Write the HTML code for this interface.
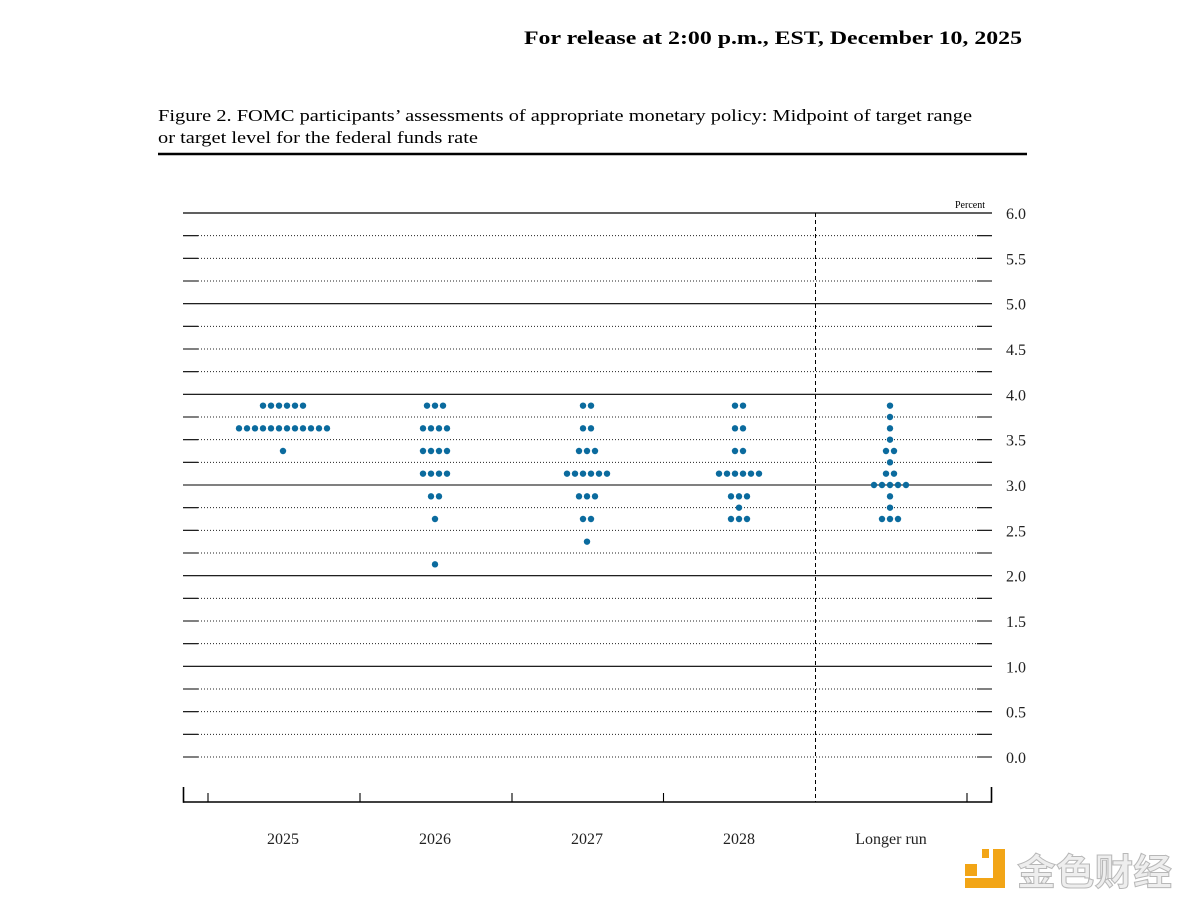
<!DOCTYPE html>
<html><head><meta charset="utf-8"><style>
html,body{margin:0;padding:0;background:#fff;}
svg{display:block;}
</style></head><body>
<svg width="1185" height="903" viewBox="0 0 1185 903" xmlns="http://www.w3.org/2000/svg">
<rect width="1185" height="903" fill="#fff"/>
<text x="524" y="44" font-family="Liberation Serif, serif" font-weight="bold" font-size="19" textLength="498" lengthAdjust="spacingAndGlyphs" fill="#000">For release at 2:00 p.m., EST, December 10, 2025</text>
<text x="158" y="121" font-family="Liberation Serif, serif" font-size="17" textLength="814" lengthAdjust="spacingAndGlyphs" fill="#000">Figure 2. FOMC participants’ assessments of appropriate monetary policy: Midpoint of target range</text>
<text x="158" y="143" font-family="Liberation Serif, serif" font-size="17" textLength="320" lengthAdjust="spacingAndGlyphs" fill="#000">or target level for the federal funds rate</text>
<line x1="158" y1="154" x2="1027" y2="154" stroke="#000" stroke-width="2.4"/>

<g stroke="#000">
<!-- integer lines -->
<line x1="183" y1="213" x2="992" y2="213" stroke-width="1.3"/>
<line x1="183" y1="303.67" x2="992" y2="303.67" stroke-width="1.1"/>
<line x1="183" y1="394.33" x2="992" y2="394.33" stroke-width="1.1"/>
<line x1="183" y1="485" x2="992" y2="485" stroke-width="1.1"/>
<line x1="183" y1="575.67" x2="992" y2="575.67" stroke-width="1.1"/>
<line x1="183" y1="666.33" x2="992" y2="666.33" stroke-width="1.1"/>
</g>
<g stroke="#222" stroke-width="1" stroke-dasharray="1 2">
<line x1="198" y1="235.67" x2="977" y2="235.67"/>
<line x1="198" y1="258.33" x2="977" y2="258.33"/>
<line x1="198" y1="281" x2="977" y2="281"/>
<line x1="198" y1="326.33" x2="977" y2="326.33"/>
<line x1="198" y1="349" x2="977" y2="349"/>
<line x1="198" y1="371.67" x2="977" y2="371.67"/>
<line x1="198" y1="417" x2="977" y2="417"/>
<line x1="198" y1="439.67" x2="977" y2="439.67"/>
<line x1="198" y1="462.33" x2="977" y2="462.33"/>
<line x1="198" y1="507.67" x2="977" y2="507.67"/>
<line x1="198" y1="530.33" x2="977" y2="530.33"/>
<line x1="198" y1="553" x2="977" y2="553"/>
<line x1="198" y1="598.33" x2="977" y2="598.33"/>
<line x1="198" y1="621" x2="977" y2="621"/>
<line x1="198" y1="643.67" x2="977" y2="643.67"/>
<line x1="198" y1="689" x2="977" y2="689"/>
<line x1="198" y1="711.67" x2="977" y2="711.67"/>
<line x1="198" y1="734.33" x2="977" y2="734.33"/>
<line x1="198" y1="757" x2="977" y2="757"/>
</g>
<g stroke="#000" stroke-width="1.1">
<path d="M183 235.67H198M977 235.67H992M183 258.33H198M977 258.33H992M183 281H198M977 281H992M183 326.33H198M977 326.33H992M183 349H198M977 349H992M183 371.67H198M977 371.67H992M183 417H198M977 417H992M183 439.67H198M977 439.67H992M183 462.33H198M977 462.33H992M183 507.67H198M977 507.67H992M183 530.33H198M977 530.33H992M183 553H198M977 553H992M183 598.33H198M977 598.33H992M183 621H198M977 621H992M183 643.67H198M977 643.67H992M183 689H198M977 689H992M183 711.67H198M977 711.67H992M183 734.33H198M977 734.33H992M183 757H198M977 757H992"/>
</g>
<line x1="815.5" y1="213" x2="815.5" y2="802" stroke="#000" stroke-width="1" stroke-dasharray="4 3"/>

<text x="955" y="208" font-family="Liberation Serif, serif" font-size="10" fill="#000">Percent</text>
<g font-family="Liberation Serif, serif" font-size="16" fill="#222">
<text x="1006" y="219">6.0</text>
<text x="1006" y="264.3">5.5</text>
<text x="1006" y="309.7">5.0</text>
<text x="1006" y="355">4.5</text>
<text x="1006" y="400.3">4.0</text>
<text x="1006" y="445.7">3.5</text>
<text x="1006" y="491">3.0</text>
<text x="1006" y="536.3">2.5</text>
<text x="1006" y="581.7">2.0</text>
<text x="1006" y="627">1.5</text>
<text x="1006" y="672.3">1.0</text>
<text x="1006" y="717.7">0.5</text>
<text x="1006" y="763">0.0</text>
</g>

<g stroke="#000">
<line x1="183" y1="802" x2="992" y2="802" stroke-width="1.5"/>
<path d="M183.5 787V802.7M991.5 787V802.7" stroke-width="1.6"/>
<path d="M208 793V802M360 793V802M512 793V802M663.5 793V802M967 793V802" stroke-width="1.1"/>
</g>
<g font-family="Liberation Serif, serif" font-size="16" fill="#222" text-anchor="middle">
<text x="283" y="844">2025</text>
<text x="435" y="844">2026</text>
<text x="587" y="844">2027</text>
<text x="739" y="844">2028</text>
<text x="891" y="844">Longer run</text>
</g>

<g fill="#0b6b9e">
<!-- 2025 -->
<circle cx="263" cy="405.67" r="3.2"/><circle cx="271" cy="405.67" r="3.2"/><circle cx="279" cy="405.67" r="3.2"/><circle cx="287" cy="405.67" r="3.2"/><circle cx="295" cy="405.67" r="3.2"/><circle cx="303" cy="405.67" r="3.2"/>
<circle cx="239" cy="428.33" r="3.2"/><circle cx="247" cy="428.33" r="3.2"/><circle cx="255" cy="428.33" r="3.2"/><circle cx="263" cy="428.33" r="3.2"/><circle cx="271" cy="428.33" r="3.2"/><circle cx="279" cy="428.33" r="3.2"/><circle cx="287" cy="428.33" r="3.2"/><circle cx="295" cy="428.33" r="3.2"/><circle cx="303" cy="428.33" r="3.2"/><circle cx="311" cy="428.33" r="3.2"/><circle cx="319" cy="428.33" r="3.2"/><circle cx="327" cy="428.33" r="3.2"/>
<circle cx="283" cy="451" r="3.2"/>
<!-- 2026 -->
<circle cx="427" cy="405.67" r="3.2"/><circle cx="435" cy="405.67" r="3.2"/><circle cx="443" cy="405.67" r="3.2"/>
<circle cx="423" cy="428.33" r="3.2"/><circle cx="431" cy="428.33" r="3.2"/><circle cx="439" cy="428.33" r="3.2"/><circle cx="447" cy="428.33" r="3.2"/>
<circle cx="423" cy="451" r="3.2"/><circle cx="431" cy="451" r="3.2"/><circle cx="439" cy="451" r="3.2"/><circle cx="447" cy="451" r="3.2"/>
<circle cx="423" cy="473.67" r="3.2"/><circle cx="431" cy="473.67" r="3.2"/><circle cx="439" cy="473.67" r="3.2"/><circle cx="447" cy="473.67" r="3.2"/>
<circle cx="431" cy="496.33" r="3.2"/><circle cx="439" cy="496.33" r="3.2"/>
<circle cx="435" cy="519" r="3.2"/>
<circle cx="435" cy="564.33" r="3.2"/>
<!-- 2027 -->
<circle cx="583" cy="405.67" r="3.2"/><circle cx="591" cy="405.67" r="3.2"/>
<circle cx="583" cy="428.33" r="3.2"/><circle cx="591" cy="428.33" r="3.2"/>
<circle cx="579" cy="451" r="3.2"/><circle cx="587" cy="451" r="3.2"/><circle cx="595" cy="451" r="3.2"/>
<circle cx="567" cy="473.67" r="3.2"/><circle cx="575" cy="473.67" r="3.2"/><circle cx="583" cy="473.67" r="3.2"/><circle cx="591" cy="473.67" r="3.2"/><circle cx="599" cy="473.67" r="3.2"/><circle cx="607" cy="473.67" r="3.2"/>
<circle cx="579" cy="496.33" r="3.2"/><circle cx="587" cy="496.33" r="3.2"/><circle cx="595" cy="496.33" r="3.2"/>
<circle cx="583" cy="519" r="3.2"/><circle cx="591" cy="519" r="3.2"/>
<circle cx="587" cy="541.67" r="3.2"/>
<!-- 2028 -->
<circle cx="735" cy="405.67" r="3.2"/><circle cx="743" cy="405.67" r="3.2"/>
<circle cx="735" cy="428.33" r="3.2"/><circle cx="743" cy="428.33" r="3.2"/>
<circle cx="735" cy="451" r="3.2"/><circle cx="743" cy="451" r="3.2"/>
<circle cx="719" cy="473.67" r="3.2"/><circle cx="727" cy="473.67" r="3.2"/><circle cx="735" cy="473.67" r="3.2"/><circle cx="743" cy="473.67" r="3.2"/><circle cx="751" cy="473.67" r="3.2"/><circle cx="759" cy="473.67" r="3.2"/>
<circle cx="731" cy="496.33" r="3.2"/><circle cx="739" cy="496.33" r="3.2"/><circle cx="747" cy="496.33" r="3.2"/>
<circle cx="739" cy="507.67" r="3.2"/>
<circle cx="731" cy="519" r="3.2"/><circle cx="739" cy="519" r="3.2"/><circle cx="747" cy="519" r="3.2"/>
<!-- Longer run -->
<circle cx="890" cy="405.67" r="3.2"/>
<circle cx="890" cy="417" r="3.2"/>
<circle cx="890" cy="428.33" r="3.2"/>
<circle cx="890" cy="439.67" r="3.2"/>
<circle cx="886" cy="451" r="3.2"/><circle cx="894" cy="451" r="3.2"/>
<circle cx="890" cy="462.33" r="3.2"/>
<circle cx="886" cy="473.67" r="3.2"/><circle cx="894" cy="473.67" r="3.2"/>
<circle cx="874" cy="485" r="3.2"/><circle cx="882" cy="485" r="3.2"/><circle cx="890" cy="485" r="3.2"/><circle cx="898" cy="485" r="3.2"/><circle cx="906" cy="485" r="3.2"/>
<circle cx="890" cy="496.33" r="3.2"/>
<circle cx="890" cy="507.67" r="3.2"/>
<circle cx="882" cy="519" r="3.2"/><circle cx="890" cy="519" r="3.2"/><circle cx="898" cy="519" r="3.2"/>
</g>

<!-- watermark -->
<g fill="#f2a516">
<rect x="982" y="849" width="7" height="9"/>
<rect x="993" y="849" width="12" height="39"/>
<rect x="965" y="864" width="12" height="12"/>
<rect x="965" y="878" width="40" height="10"/>
</g>
<text x="1017" y="885" font-family="Noto Sans CJK SC, WenQuanYi Zen Hei, sans-serif" font-weight="bold" font-size="37" textLength="155" lengthAdjust="spacingAndGlyphs" fill="#eeeeee" stroke="#b8b8b8" stroke-width="1">金色财经</text>
</svg>
</body></html>
